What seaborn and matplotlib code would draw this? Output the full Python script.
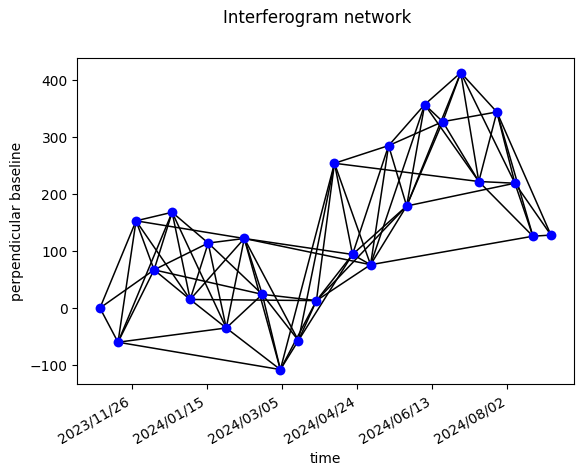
import datetime as dt
import pandas as pd
import seaborn as sns
import matplotlib
matplotlib.use("Agg")
import matplotlib.pyplot as plt
from matplotlib.ticker import FuncFormatter

# acquisition dates and perpendicular baselines (m)
dates = ["2023/11/05", "2023/11/17", "2023/11/29", "2023/12/11", "2023/12/23",
         "2024/01/04", "2024/01/16", "2024/01/28", "2024/02/09", "2024/02/21",
         "2024/03/04", "2024/03/16", "2024/03/28", "2024/04/09", "2024/04/21",
         "2024/05/03", "2024/05/15", "2024/05/27", "2024/06/08", "2024/06/20",
         "2024/07/02", "2024/07/14", "2024/07/26", "2024/08/07", "2024/08/19",
         "2024/08/31"]
bperp = [0, -60, 153, 67, 168, 15, 114, -35, 122, 24, -108, -57, 13,
         254, 94, 76, 285, 179, 357, 327, 413, 222, 344, 219, 126, 128]

# interferogram pairs (indices into dates)
pair_ref = [0, 0, 0, 1, 1, 1, 1, 1, 2, 2, 2, 2, 3, 3, 3, 3, 4, 4, 4,
            5, 5, 5, 5, 6, 6, 6, 7, 7, 7, 8, 8, 8, 8, 8, 9, 9, 9,
            10, 10, 10, 11, 11, 11, 12, 12, 12, 12, 13, 13, 13, 13, 14, 14, 14,
            15, 15, 15, 15, 16, 16, 16, 17, 17, 17, 17, 18, 18, 18,
            19, 19, 19, 20, 20, 20, 21, 21, 21, 22, 22, 22, 23, 23, 24]
pair_sec = [1, 2, 3, 2, 3, 4, 7, 10, 3, 4, 5, 8, 4, 5, 6, 9, 5, 6, 7,
            6, 7, 8, 12, 7, 8, 9, 8, 9, 10, 9, 10, 11, 14, 15, 10, 11, 12,
            11, 12, 13, 12, 13, 14, 13, 14, 15, 17, 14, 15, 16, 21, 15, 16, 17,
            16, 17, 18, 24, 17, 18, 19, 18, 19, 20, 23, 19, 20, 21,
            20, 21, 22, 21, 22, 23, 22, 23, 24, 23, 24, 25, 24, 25, 25]

day = [dt.datetime.strptime(d, "%Y/%m/%d").date().toordinal() for d in dates]
pts = pd.DataFrame({"time": day, "bperp": bperp})

rows = []
for k, (a, b) in enumerate(zip(pair_ref, pair_sec)):
    rows.append((k, day[a], bperp[a]))
    rows.append((k, day[b], bperp[b]))
edges = pd.DataFrame(rows, columns=["pair", "time", "bperp"])

fig = plt.figure(figsize=(5.86, 4.75), dpi=100)
ax = fig.add_axes([0.1321, 0.1907, 0.8466, 0.6876])

sns.lineplot(data=edges, x="time", y="bperp", units="pair", estimator=None,
             color="black", linewidth=1.1, ax=ax, zorder=1)
sns.scatterplot(data=pts, x="time", y="bperp", color="blue", s=50,
                linewidth=0, ax=ax, zorder=2)

ax.xaxis.set_major_formatter(FuncFormatter(
    lambda v, p: dt.date.fromordinal(int(v)).strftime("%Y/%m/%d")))
for lab in ax.get_xticklabels():
    lab.set_rotation(30)
    lab.set_ha("right")
ax.set_xlabel("time")
ax.set_ylabel("perpendicular baseline")
fig.text(0.541, 0.962, "Interferogram network", ha="center", va="center",
         fontsize=12)

fig.savefig("out.png", dpi=100)
